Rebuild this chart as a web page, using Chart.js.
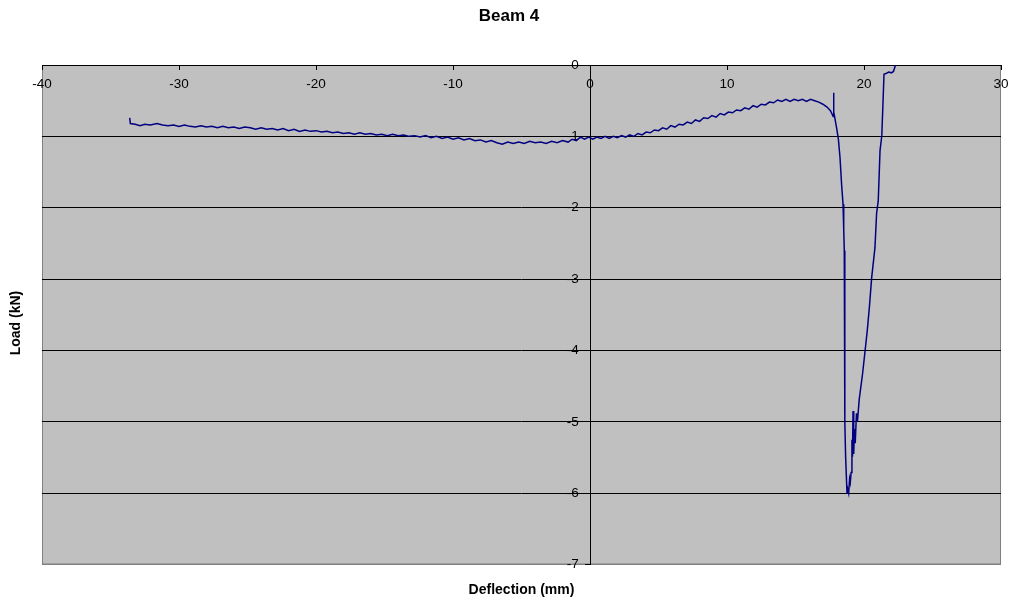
<!DOCTYPE html>
<html>
<head>
<meta charset="utf-8">
<title>Beam 4</title>
<script src="https://cdn.jsdelivr.net/npm/chart.js@4/dist/chart.umd.min.js"></script>
<style>
  body { margin: 0; background: #fff; }
  #caja { width: 1009px; height: 601px; position: relative; }
</style>
</head>
<body>
<div id="caja"><canvas id="grafica"></canvas></div>
<script>
// Deflexion (mm), leida punto a punto de la grafica original
var deflexion = [
  -33.6, -33.55, -33.2, -32.85, -32.5, -32.1, -31.6, -31.2, -30.8, -30.4,
  -30.0, -29.6, -29.2, -28.8, -28.4, -28.0, -27.6, -27.2, -26.8, -26.4,
  -26.0, -25.6, -25.2, -24.8, -24.4, -24.0, -23.6, -23.2, -22.8, -22.4,
  -22.0, -21.6, -21.2, -20.8, -20.4, -20.0, -19.6, -19.2, -18.8, -18.4,
  -18.0, -17.6, -17.2, -16.8, -16.4, -16.0, -15.6, -15.2, -14.8, -14.4,
  -14.0, -13.6, -13.2, -12.8, -12.4, -12.0, -11.6, -11.2, -10.8, -10.4,
  -10.0, -9.6, -9.2, -8.8, -8.4, -8.0, -7.6, -7.2, -6.8, -6.4,
  -6.0, -5.6, -5.2, -4.8, -4.4, -4.0, -3.6, -3.2, -2.8, -2.4,
  -2.0, -1.6, -1.3, -1.0, -0.7, -0.4, -0.1, 0.2, 0.5, 0.8,
  1.1, 1.4, 1.7, 2.0, 2.3, 2.6, 2.9, 3.2, 3.5, 3.8,
  4.1, 4.4, 4.7, 5.0, 5.3, 5.6, 5.9, 6.2, 6.5, 6.8,
  7.1, 7.4, 7.7, 8.0, 8.3, 8.6, 8.9, 9.2, 9.5, 9.8,
  10.1, 10.4, 10.7, 11.0, 11.3, 11.6, 11.9, 12.2, 12.5, 12.8,
  13.1, 13.4, 13.7, 14.0, 14.3, 14.6, 14.9, 15.2, 15.5, 15.8,
  16.1, 16.4, 16.7, 17.0, 17.3, 17.55, 17.7, 17.75, 17.78, 17.8,
  17.85, 18.0, 18.13, 18.25, 18.37, 18.47, 18.52, 18.56, 18.6, 18.66,
  18.76, 18.82, 18.88, 18.95, 19.0, 19.06, 19.12, 19.16, 19.2, 19.25,
  19.3, 19.36, 19.45, 19.52, 19.65, 19.9, 20.07, 20.24, 20.39, 20.56,
  20.8, 20.92, 21.04, 21.17, 21.3, 21.46, 21.6, 21.8, 22.0, 22.15,
  22.3
];

// Carga (kN) para cada deflexion
var carga = [
  -0.74, -0.82, -0.83, -0.85, -0.83, -0.84, -0.82, -0.84, -0.85, -0.84,
  -0.86, -0.84, -0.86, -0.87, -0.85, -0.87, -0.86, -0.88, -0.86, -0.88,
  -0.87, -0.89, -0.87, -0.88, -0.90, -0.88, -0.90, -0.89, -0.91, -0.89,
  -0.92, -0.90, -0.93, -0.91, -0.93, -0.92, -0.94, -0.93, -0.95, -0.94,
  -0.96, -0.95, -0.97, -0.95, -0.97, -0.96, -0.98, -0.97, -0.99, -0.97,
  -0.99, -0.98, -1.00, -0.99, -1.01, -0.99, -1.02, -1.00, -1.03, -1.01,
  -1.04, -1.02, -1.05, -1.03, -1.06, -1.05, -1.08, -1.06, -1.09, -1.11,
  -1.08, -1.10, -1.08, -1.10, -1.07, -1.09, -1.08, -1.10, -1.07, -1.09,
  -1.06, -1.08, -1.04, -1.06, -1.01, -1.04, -1.01, -1.04, -1.01, -1.03,
  -1.00, -1.03, -1.00, -1.02, -0.99, -1.01, -0.98, -1.00, -0.96, -0.98,
  -0.94, -0.95, -0.91, -0.92, -0.88, -0.90, -0.85, -0.87, -0.83, -0.84,
  -0.80, -0.82, -0.77, -0.79, -0.74, -0.75, -0.71, -0.73, -0.68, -0.70,
  -0.66, -0.67, -0.63, -0.64, -0.60, -0.62, -0.57, -0.59, -0.55, -0.56,
  -0.52, -0.53, -0.49, -0.51, -0.48, -0.51, -0.48, -0.50, -0.48, -0.51,
  -0.48, -0.50, -0.52, -0.55, -0.59, -0.64, -0.70, -0.72, -0.39, -0.66,
  -0.72, -0.88, -1.04, -1.30, -1.69, -1.95, -2.30, -2.60, -5.00, -5.50,
  -6.00, -5.95, -6.00, -5.80, -5.85, -5.71, -5.25, -5.49, -4.85, -5.45,
  -5.10, -5.30, -4.88, -5.00, -4.69, -4.32, -4.02, -3.72, -3.40, -2.98,
  -2.56, -2.08, -1.90, -1.20, -0.99, -0.13, -0.12, -0.10, -0.11, -0.09,
  0.00
];

// Limites y paso de los ejes
var limitesX = [-40, 30];
var limitesY = [-7, 0];
var pasoX = 10;
var pasoY = 1;

var titulo = 'Beam 4';
var tituloX = 'Deflection (mm)';
var tituloY = 'Load (kN)';

// Juntamos los puntos
var puntos = [];
for (var i = 0; i < deflexion.length; i++) {
  puntos.push({ x: deflexion[i], y: carga[i] });
}

var fuente = 'Arial, "Liberation Sans", sans-serif';
Chart.defaults.font.family = fuente;
Chart.defaults.color = '#000';

// Fondo gris del area de trazado y los titulos
var fondoArea = {
  id: 'fondoArea',
  beforeDraw: function (chart) {
    var a = chart.chartArea;
    var ctx = chart.ctx;
    ctx.save();
    ctx.fillStyle = '#c0c0c0';
    ctx.fillRect(a.left, a.top, a.right - a.left, a.bottom - a.top);
    ctx.strokeStyle = '#808080';
    ctx.lineWidth = 1;
    ctx.strokeRect(a.left + 0.5, a.top + 0.5, a.right - a.left - 1, a.bottom - a.top - 1);
    ctx.restore();
  },
  afterDraw: function (chart) {
    var a = chart.chartArea;
    var ctx = chart.ctx;
    ctx.save();
    ctx.fillStyle = '#000';
    ctx.textAlign = 'center';
    ctx.textBaseline = 'middle';
    ctx.font = 'bold 17px ' + fuente;
    ctx.fillText(titulo, 509, 16);
    ctx.font = 'bold 14px ' + fuente;
    ctx.fillText(tituloX, (a.left + a.right) / 2, 590);
    ctx.translate(16, 323);
    ctx.rotate(-Math.PI / 2);
    ctx.fillText(tituloY, 0, 0);
    ctx.restore();
  }
};

var ctx = document.getElementById('grafica').getContext('2d');
var grafica = new Chart(ctx, {
  type: 'scatter',
  data: {
    datasets: [{
      label: 'Beam 4',
      data: puntos,
      showLine: true,
      borderColor: '#000080',
      backgroundColor: '#000080',
      borderWidth: 1.5,
      pointRadius: 0,
      tension: 0,
      fill: false
    }]
  },
  options: {
    responsive: true,
    maintainAspectRatio: false,
    animation: false,
    layout: { padding: { left: 42, right: 8, top: 65, bottom: 36.5 } },
    plugins: {
      legend: { display: false },
      tooltip: { enabled: false },
      title: { display: false }
    },
    scales: {
      x: {
        type: 'linear',
        position: { y: 0 },
        min: limitesX[0],
        max: limitesX[1],
        ticks: { stepSize: pasoX, autoSkip: false, maxRotation: 0, font: { size: 13.5 }, color: '#000', padding: 7 },
        grid: { drawOnChartArea: false, drawTicks: true, tickLength: 4, tickColor: '#000' },
        border: { color: '#000', width: 1 },
        // las etiquetas de los extremos pueden salirse del area
        afterFit: function (escala) {
          escala.paddingLeft = 0;
          escala.paddingRight = 0;
        }
      },
      y: {
        type: 'linear',
        position: { x: 0 },
        min: limitesY[0],
        max: limitesY[1],
        ticks: {
          stepSize: pasoY,
          autoSkip: false,
          font: { size: 13.5 },
          color: '#000',
          // separa la etiqueta de la marca del eje
          callback: function (valor) { return valor + '   '; }
        },
        grid: {
          color: function (c) { return c.tick && c.tick.value === limitesY[0] ? '#808080' : '#000'; },
          lineWidth: 1,
          drawTicks: true,
          tickLength: 5,
          tickColor: '#000'
        },
        border: { color: '#000', width: 1 },
        afterFit: function (escala) {
          escala.paddingTop = 0;
          escala.paddingBottom = 0;
        }
      }
    }
  },
  plugins: [fondoArea]
});
</script>
</body>
</html>
